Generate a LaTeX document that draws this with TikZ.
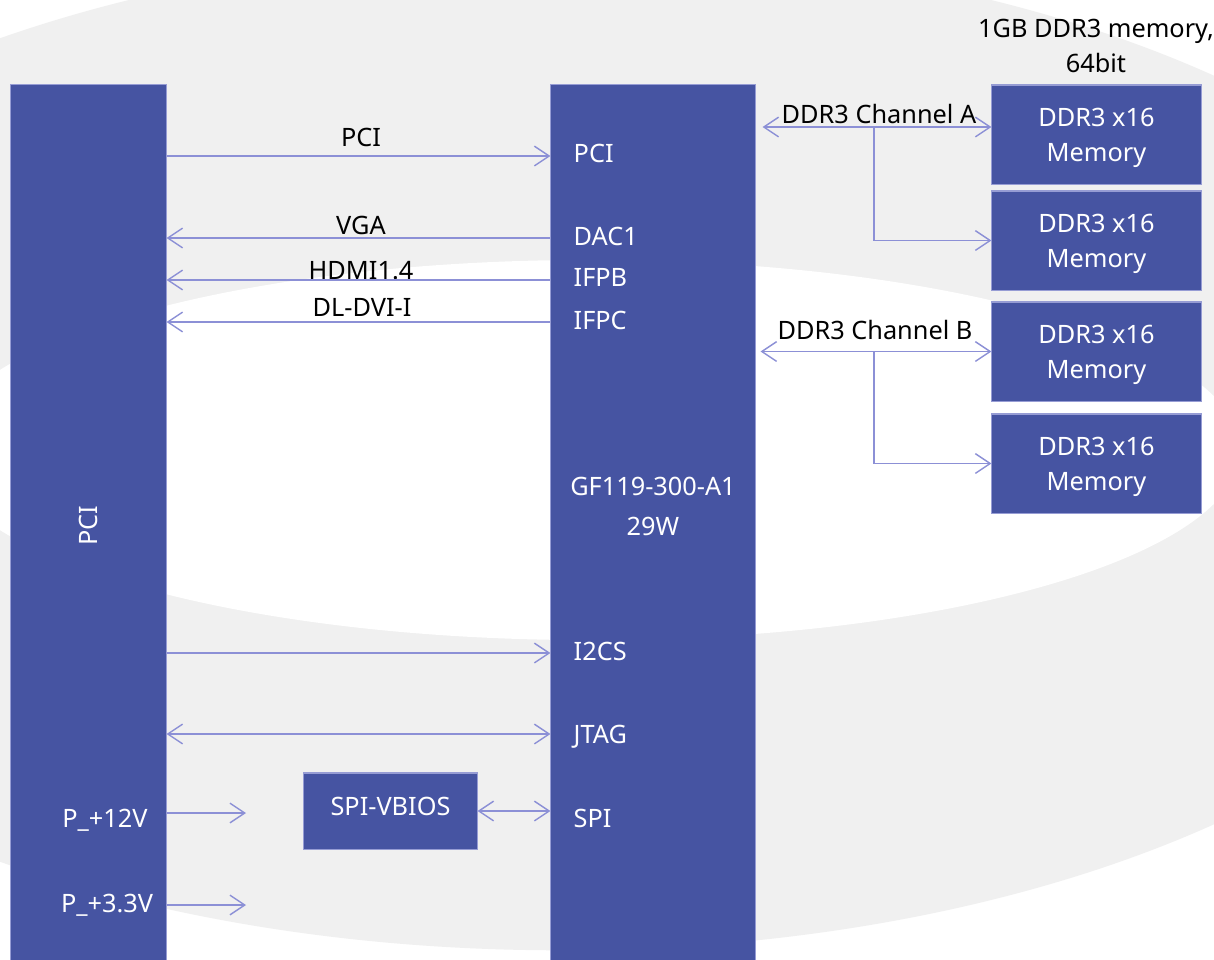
\documentclass[tikz,border=0pt]{standalone}
\usepackage{fontspec}
\setmainfont{Noto Sans}
\usetikzlibrary{arrows.meta}
\definecolor{boxblue}{RGB}{70,84,162}
\definecolor{boxedge}{RGB}{150,156,212}
\definecolor{linkcol}{RGB}{140,144,214}
\definecolor{bggrey}{RGB}{240,240,240}
\tikzset{blk/.style={fill=boxblue, draw=boxedge, line width=0.3pt, inner sep=0pt},
         memblk/.style={blk, text=white, align=center, text depth=0pt,
                        minimum width=2.09cm, minimum height=0.99cm},
         sig/.style={draw=linkcol, line width=0.4pt},
         port/.style={text=white, anchor=base west, inner sep=0pt},
         lbl/.style={text=black, anchor=base}}

\begin{document}
\begin{tikzpicture}[x=0.01cm, y=-0.01cm,
        >={Straight Barb[length=4.2pt,width=5.6pt]},
        font=\fontsize{7.2}{10}\selectfont]
        \useasboundingbox (0,0) rectangle (1214,960);
        \fill[white] (0,0) rectangle (1214,960);

        % Background bands
        \begin{scope}
        \clip (0,0) rectangle (1214,960);
        \fill[bggrey] (560,450) ellipse [x radius=9.85cm, y radius=5cm];
        \fill[white] (590,450) ellipse [x radius=6.5cm, y radius=1.9cm];
        \end{scope}

        % Blocks
        \node[blk, minimum width=1.55cm, minimum height=8.75cm] (pcibox) at (88.5,522.5) {};
        \node[blk, minimum width=2.04cm, minimum height=8.75cm] (gpu) at (653,522.5) {};
        \node[memblk] (mem1) at (1096.5,134.5) {DDR3 x16\\Memory};
        \node[memblk] (mem2) at (1096.5,240.5) {DDR3 x16\\Memory};
        \node[memblk] (mem3) at (1096.5,351.5) {DDR3 x16\\Memory};
        \node[memblk] (mem4) at (1096.5,463.5) {DDR3 x16\\Memory};
        \node[blk, minimum width=1.73cm, minimum height=0.76cm] (vbios) at (390.5,811) {};
        \node[text=white] (vbioslbl) at (390.5,806) {SPI-VBIOS};

        \node[align=center] (memnote) at (1096,46) {1GB DDR3 memory,\\64bit};

        % PCI side
        \node[text=white, rotate=90] (pcivert) at (88,526) {PCI};
        \node[text=white, anchor=base] (p12) at (105,827) {P\_+12V};
        \node[text=white, anchor=base] (p33) at (107,912) {P\_+3.3V};

        % GPU ports
        \node[port] (inPCI) at (573,162) {PCI};
        \node[port] (inDAC) at (573,245) {DAC1};
        \node[port] (inIFPB) at (573,286) {IFPB};
        \node[port] (inIFPC) at (573,329) {IFPC};
        \node[text=white, anchor=base] (gpuname) at (653,495) {GF119-300-A1};
        \node[text=white, anchor=base] (gpupwr) at (653,535) {29W};
        \node[port] (inI2CS) at (573,660) {I2CS};
        \node[port] (inJTAG) at (573,743) {JTAG};
        \node[port] (inSPI) at (573,827) {SPI};

        % Bus labels
        \node[lbl] (busPCI) at (361,146) {PCI};
        \node[lbl] (busVGA) at (361,234) {VGA};
        \node[lbl] (busHDMI) at (361,279) {HDMI1.4};
        \node[lbl] (busDVI) at (362,316) {DL-DVI-I};
        \node[lbl] (chA) at (879,123) {DDR3 Channel A};
        \node[lbl] (chB) at (875,339) {DDR3 Channel B};

        % Links
        \draw[sig,->] (pcibox.east |- 0,156) -- (gpu.west |- 0,156);
        \draw[sig,<-] (pcibox.east |- 0,238) -- (gpu.west |- 0,238);
        \draw[sig,<-] (pcibox.east |- 0,280) -- (gpu.west |- 0,280);
        \draw[sig,<-] (pcibox.east |- 0,322) -- (gpu.west |- 0,322);
        \draw[sig,->] (pcibox.east |- 0,653) -- (gpu.west |- 0,653);
        \draw[sig,<->] (pcibox.east |- 0,734) -- (gpu.west |- 0,734);
        \draw[sig,<->] (vbios.east) -- (gpu.west |- vbios.east);

        \coordinate (p12end) at (246,813);
        \coordinate (p33end) at (246,905);
        \draw[sig,->] (pcibox.east |- p12end) -- (p12end);
        \draw[sig,->] (pcibox.east |- p33end) -- (p33end);

        % Memory channels
        \draw[sig,<->, shorten <=0.07cm] (gpu.east |- 0,127) -- (mem1.west |- 0,127);
        \coordinate (tapA) at (874,127);
        \draw[sig,->] (tapA) |- (mem2.west);
        \draw[sig,<->, shorten <=0.05cm] (gpu.east |- mem3.west) -- (mem3.west);
        \coordinate (tapB) at (874,351.5);
        \draw[sig,->] (tapB) |- (mem4.west);
\end{tikzpicture}
\end{document}
